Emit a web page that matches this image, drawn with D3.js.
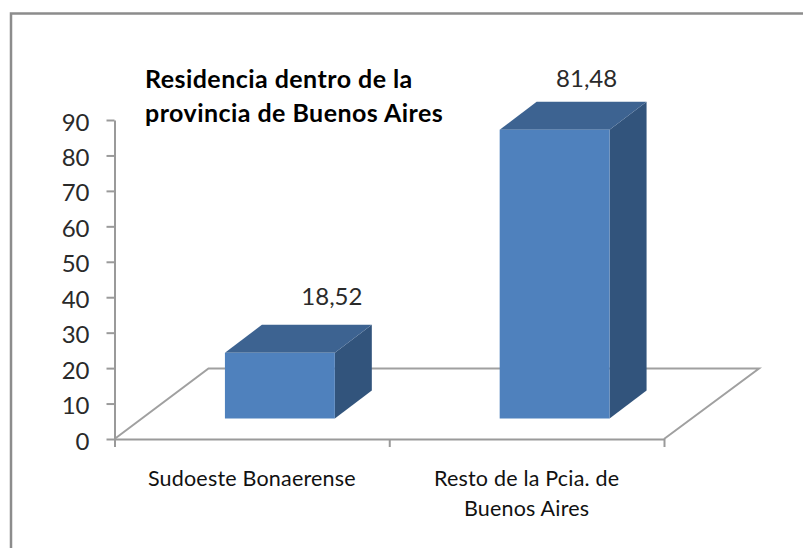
<!DOCTYPE html>
<html>
<head>
<meta charset="utf-8">
<script src="https://cdnjs.cloudflare.com/ajax/libs/d3/7.8.5/d3.min.js"></script>
<style>
  html, body { margin: 0; padding: 0; background: #fff; }
  svg { display: block; }
  text { font-family: Lato, "Open Sans", sans-serif; }
</style>
</head>
<body>
<div id="container"></div>
<script>
var categories = ["Sudoeste Bonaerense", "Resto de la Pcia. de|Buenos Aires"];
var values = [18.52, 81.48];
var valueLabels = ["18,52", "81,48"];
var yTicks = [0, 10, 20, 30, 40, 50, 60, 70, 80, 90];
var titleLines = ["Residencia dentro de la", "provincia de Buenos Aires"];

var width = 803, height = 548;
var x0 = 114.5, x1 = 664, y0 = 439, y90 = 120;
// depth of the floor and of the bars
var floorDx = 94, floorDy = -70.5;
var barDx = 37, barDy = -28;
var barShiftX = 28, barShiftY = -20.5;

var svg = d3.select('#container').append('svg')
  .attr('width', width)
  .attr('height', height);

// picture frame
svg.append('path')
  .attr('d', 'M11,' + height + 'V13.5H' + width)
  .attr('fill', 'none')
  .attr('stroke', '#8c8c8c')
  .attr('stroke-width', 2.5);

var y = d3.scaleLinear().domain([0, 90]).range([y0, y90]);
var x = d3.scaleBand().domain(categories).range([x0, x1])
  .paddingInner(0.6).paddingOuter(0.3);

// floor
svg.append('path')
  .attr('d', d3.line()([
    [x0, y0], [x0 + floorDx, y0 + floorDy],
    [x1 + floorDx + 1, y0 + floorDy], [x1, y0]
  ]))
  .attr('fill', 'none')
  .attr('stroke', '#a0a0a0')
  .attr('stroke-width', 2);

// y axis
var yAxis = svg.append('g')
  .attr('transform', 'translate(' + x0 + ',0)')
  .call(d3.axisLeft(y).tickValues(yTicks).tickSize(8).tickPadding(17).tickSizeOuter(0));
yAxis.selectAll('text')
  .attr('font-size', 24)
  .attr('font-family', 'Lato, "Open Sans", sans-serif')
  .attr('fill', '#2a2a2a')
  .attr('dy', '0.42em');
yAxis.selectAll('line, path').attr('stroke', '#9a9a9a').attr('stroke-width', 2);

// x axis, ticks sit on the edges of the categories
var xEdges = d3.scaleLinear().domain([0, categories.length]).range([x0, x1]);
var xAxis = svg.append('g')
  .attr('transform', 'translate(0,' + y0 + ')')
  .call(d3.axisBottom(xEdges).tickValues(d3.range(categories.length + 1)).tickSize(8).tickSizeOuter(0).tickFormat(''));
xAxis.selectAll('line, path').attr('stroke', '#9a9a9a').attr('stroke-width', 2);

// bars
var bars = svg.selectAll('g.bar')
  .data(categories.map(function(c, i) { return { name: c, value: values[i], label: valueLabels[i], i: i }; }))
  .enter().append('g')
  .classed('bar', true);

function frontBox(d) {
  var left = x(d.name) + barShiftX;
  return {
    left: left,
    right: left + x.bandwidth(),
    top: y(d.value) + barShiftY,
    bottom: y(0) + barShiftY
  };
}

// side face
bars.append('path')
  .attr('fill', '#32547c')
  .attr('d', function(d) {
    var b = frontBox(d);
    return d3.line()([
      [b.right, b.top], [b.right + barDx, b.top + barDy],
      [b.right + barDx, b.bottom + barDy], [b.right, b.bottom]
    ]) + 'Z';
  });

// top face
bars.append('path')
  .attr('fill', '#3d6391')
  .attr('d', function(d) {
    var b = frontBox(d);
    return d3.line()([
      [b.left, b.top], [b.left + barDx, b.top + barDy],
      [b.right + barDx, b.top + barDy], [b.right, b.top]
    ]) + 'Z';
  });

// front face
bars.append('rect')
  .attr('fill', '#4f81bd')
  .attr('x', function(d) { return frontBox(d).left; })
  .attr('y', function(d) { return frontBox(d).top; })
  .attr('width', x.bandwidth())
  .attr('height', function(d) { var b = frontBox(d); return b.bottom - b.top; });

// value labels, the first one was dragged sideways in the original
bars.append('text')
  .attr('x', function(d) { return frontBox(d).left + x.bandwidth() / 2 + (d.i === 0 ? 52 : 32); })
  .attr('y', function(d) { return frontBox(d).top + barDy + (d.i === 0 ? -20 : -15); })
  .attr('text-anchor', 'middle')
  .attr('font-size', 24)
  .attr('fill', '#2a2a2a')
  .text(function(d) { return d.label; });

// category labels
categories.forEach(function(c, i) {
  var lines = c.split('|');
  lines.forEach(function(line, j) {
    svg.append('text')
      .attr('x', xEdges(i + 0.5))
      .attr('y', 486 + j * 29.5)
      .attr('text-anchor', 'middle')
      .attr('font-size', 21.5)
      .attr('letter-spacing', 0.2)
      .attr('fill', '#111')
      .text(line);
  });
});

// title
svg.selectAll('text.title')
  .data(titleLines)
  .enter().append('text')
  .classed('title', true)
  .attr('x', 145)
  .attr('y', function(d, i) { return 88 + i * 34; })
  .attr('font-size', 25)
  .attr('font-weight', 700)
  .attr('letter-spacing', 0.45)
  .attr('fill', '#000')
  .text(function(d) { return d; });
</script>
</body>
</html>
